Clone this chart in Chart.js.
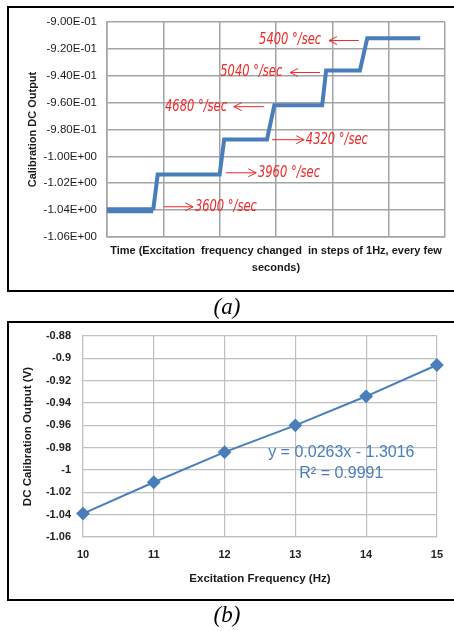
<!DOCTYPE html>
<html>
<head>
<meta charset="utf-8">
<script src="https://cdn.jsdelivr.net/npm/chart.js@4.4.0/dist/chart.umd.min.js"></script>
<style>
    html, body { margin: 0; padding: 0; background: #fff; }
    body { width: 454px; height: 631px; position: relative; overflow: hidden; }
    .frame { position: absolute; left: 7px; width: 460px; border: 2px solid #000; border-right: none; box-sizing: border-box; pointer-events: none; }
    #frameA { top: 6px; height: 286px; }
    #frameB { top: 321px; height: 280px; }
    .wrap { position: absolute; left: 0; width: 454px; }
    #wrapA { top: 0; height: 292px; }
    #wrapB { top: 310px; height: 300px; }
    .cap { position: absolute; left: 0; width: 454px; text-align: center; line-height: 26px; font: italic 23px 'Liberation Serif', 'DejaVu Serif', serif; color: #000; }
    #capA { top: 294px; }
    #capB { top: 602px; }
</style>
</head>
<body>
<div class="wrap" id="wrapA"><canvas id="chartA"></canvas></div>
<div class="wrap" id="wrapB"><canvas id="chartB"></canvas></div>
<div class="frame" id="frameA"></div>
<div class="frame" id="frameB"></div>
<div class="cap" id="capA">(a)</div>
<div class="cap" id="capB">(b)</div>
<script>
(function () {
    'use strict';

    // (a) step response, x in grid units of time
    const stepX = [0, 0.82, 0.90, 2.00, 2.08, 2.84, 2.97, 3.82, 3.89, 4.49, 4.62, 5.56];
    const stepY = [-1.040, -1.040, -1.0135, -1.0135, -0.9875, -0.9875, -0.962, -0.962, -0.936, -0.936, -0.912, -0.912];
    const rateLabels = ['5400 °/sec', '5040 °/sec', '4680 °/sec', '4320 °/sec', '3960 °/sec', '3600 °/sec'];

    // (b) calibration line
    const freqHz = [10, 11, 12, 13, 14, 15];
    const dcOut = [-1.039, -1.011, -0.984, -0.960, -0.934, -0.906];
    const fitLabels = ['y = 0.0263x - 1.3016', 'R² = 0.9991'];

    const BLUE = '#4A7EBB';
    const RED = '#F02828';
    const SANS = "'Liberation Sans', Arial, sans-serif";

    // where the red notes sit (data units of chart a)
    const notes = [
        { text: 0, x: 2.70, y: -0.9138, from: 4.47, to: 3.94 },
        { text: 1, x: 2.01, y: -0.9376, from: 3.78, to: 3.25 },
        { text: 2, x: 1.03, y: -0.9630, from: 2.79, to: 2.25 },
        { text: 3, x: 3.53, y: -0.9876, from: 2.93, to: 3.50 },
        { text: 4, x: 2.68, y: -1.0122, from: 2.11, to: 2.65 },
        { text: 5, x: 1.56, y: -1.0375, from: 1.01, to: 1.53 }
    ];

    function sci(v) {
        const parts = Number(v).toExponential(2).split('e');
        const e = parseInt(parts[1], 10);
        return parts[0] + 'E' + (e < 0 ? '-' : '+') + String(Math.abs(e)).padStart(2, '0');
    }

    function shortNum(v) {
        return String(Math.round(v * 100) / 100);
    }

    const notePlugin = {
        id: 'notes',
        afterDatasetsDraw(chart) {
            const { ctx, scales: { x, y } } = chart;
            ctx.save();
            ctx.fillStyle = RED;
            ctx.strokeStyle = RED;
            ctx.lineWidth = 1;
            ctx.font = "italic 15px 'Liberation Sans Narrow', 'DejaVu Sans Condensed', sans-serif";
            ctx.textBaseline = 'middle';
            notes.forEach(n => {
                const py = y.getPixelForValue(n.y);
                const label = rateLabels[n.text];
                // squeeze to the narrow hand-lettered look of the original
                const w = ctx.measureText(label).width;
                const sx = Math.min(1, 62 / w);
                ctx.save();
                ctx.translate(x.getPixelForValue(n.x), py);
                ctx.scale(sx, 1);
                ctx.fillText(label, 0, 0);
                ctx.restore();
                const x0 = x.getPixelForValue(n.from);
                const x1 = x.getPixelForValue(n.to);
                const dir = x1 > x0 ? 1 : -1;
                ctx.beginPath();
                ctx.moveTo(x0, py);
                ctx.lineTo(x1, py);
                ctx.moveTo(x1 - dir * 8, py - 4);
                ctx.lineTo(x1, py);
                ctx.lineTo(x1 - dir * 8, py + 4);
                ctx.stroke();
            });
            ctx.restore();
        }
    };

    const fitPlugin = {
        id: 'fit',
        afterDatasetsDraw(chart) {
            const { ctx, scales: { x, y } } = chart;
            ctx.save();
            ctx.fillStyle = BLUE;
            ctx.font = '16px ' + SANS;
            ctx.textAlign = 'center';
            ctx.textBaseline = 'middle';
            ctx.fillText(fitLabels[0], x.getPixelForValue(13.65), y.getPixelForValue(-0.9848));
            ctx.fillText(fitLabels[1], x.getPixelForValue(13.65), y.getPixelForValue(-1.0036));
            ctx.restore();
        }
    };

    const gridA = { color: '#A4A4A4', lineWidth: 1.5, drawTicks: false };
    const gridB = { color: '#C0C0C0', lineWidth: 1.2, drawTicks: false };

    new Chart(document.getElementById('chartA'), {
        type: 'line',
        data: {
            datasets: [{
                data: stepX.map((v, i) => ({ x: v, y: stepY[i] })),
                borderColor: BLUE,
                borderWidth: 4,
                pointRadius: 0,
                tension: 0,
                segment: { borderWidth: c => (c.p0DataIndex === 0 ? 6 : 4) }
            }]
        },
        options: {
            responsive: true,
            maintainAspectRatio: false,
            animation: false,
            layout: { padding: { left: 0, right: 9, top: 22, bottom: 0 } },
            plugins: { legend: { display: false }, tooltip: { enabled: false } },
            scales: {
                x: {
                    type: 'linear', min: 0, max: 6,
                    ticks: { stepSize: 1, display: false },
                    grid: gridA,
                    border: { color: '#A4A4A4', width: 1.5 },
                    title: {
                        display: true,
                        text: ['Time (Excitation  frequency changed  in steps of 1Hz, every few', 'seconds)'],
                        color: '#1a1a1a',
                        font: { family: SANS, size: 11, weight: 'bold', lineHeight: '17px' },
                        padding: { top: 0, bottom: 16 }
                    },
                    afterFit: s => { s.height = 55; }
                },
                y: {
                    min: -1.06, max: -0.90,
                    ticks: { stepSize: 0.02, callback: sci, padding: 10, color: '#1a1a1a', font: { family: SANS, size: 11.5 } },
                    grid: gridA,
                    border: { color: '#A4A4A4', width: 1.5 },
                    title: {
                        display: true,
                        text: 'Calibration DC Output',
                        color: '#1a1a1a',
                        font: { family: SANS, size: 11, weight: 'bold' },
                        padding: { top: 26, bottom: 0 }
                    },
                    afterFit: s => { s.width = 107; }
                }
            }
        },
        plugins: [notePlugin]
    });

    new Chart(document.getElementById('chartB'), {
        type: 'line',
        data: {
            datasets: [{
                data: freqHz.map((v, i) => ({ x: v, y: dcOut[i] })),
                borderColor: BLUE,
                backgroundColor: BLUE,
                borderWidth: 2,
                pointStyle: 'rectRot',
                pointRadius: 5.5,
                tension: 0,
                clip: false
            }]
        },
        options: {
            responsive: true,
            maintainAspectRatio: false,
            animation: false,
            layout: { padding: { left: 0, right: 15, top: 26, bottom: 0 } },
            plugins: { legend: { display: false }, tooltip: { enabled: false } },
            scales: {
                x: {
                    type: 'linear', min: 10, max: 15,
                    ticks: { stepSize: 1, padding: 11, color: '#222', font: { family: SANS, size: 11, weight: 'bold' } },
                    grid: gridB,
                    border: { color: '#C0C0C0', width: 1.2 },
                    title: {
                        display: true,
                        text: 'Excitation Frequency (Hz)',
                        color: '#1a1a1a',
                        font: { family: SANS, size: 11.5, weight: 'bold' },
                        padding: { top: 0, bottom: 24 }
                    },
                    afterFit: s => { s.height = 73; }
                },
                y: {
                    min: -1.06, max: -0.88,
                    ticks: { stepSize: 0.02, callback: shortNum, padding: 12, color: '#222', font: { family: SANS, size: 11, weight: 'bold' } },
                    grid: gridB,
                    border: { color: '#C0C0C0', width: 1.2 },
                    title: {
                        display: true,
                        text: 'DC Calibration Output (V)',
                        color: '#1a1a1a',
                        font: { family: SANS, size: 11.5, weight: 'bold' },
                        padding: { top: 21, bottom: 0 }
                    },
                    afterFit: s => { s.width = 83; }
                }
            }
        },
        plugins: [fitPlugin]
    });
})();
</script>
</body>
</html>
